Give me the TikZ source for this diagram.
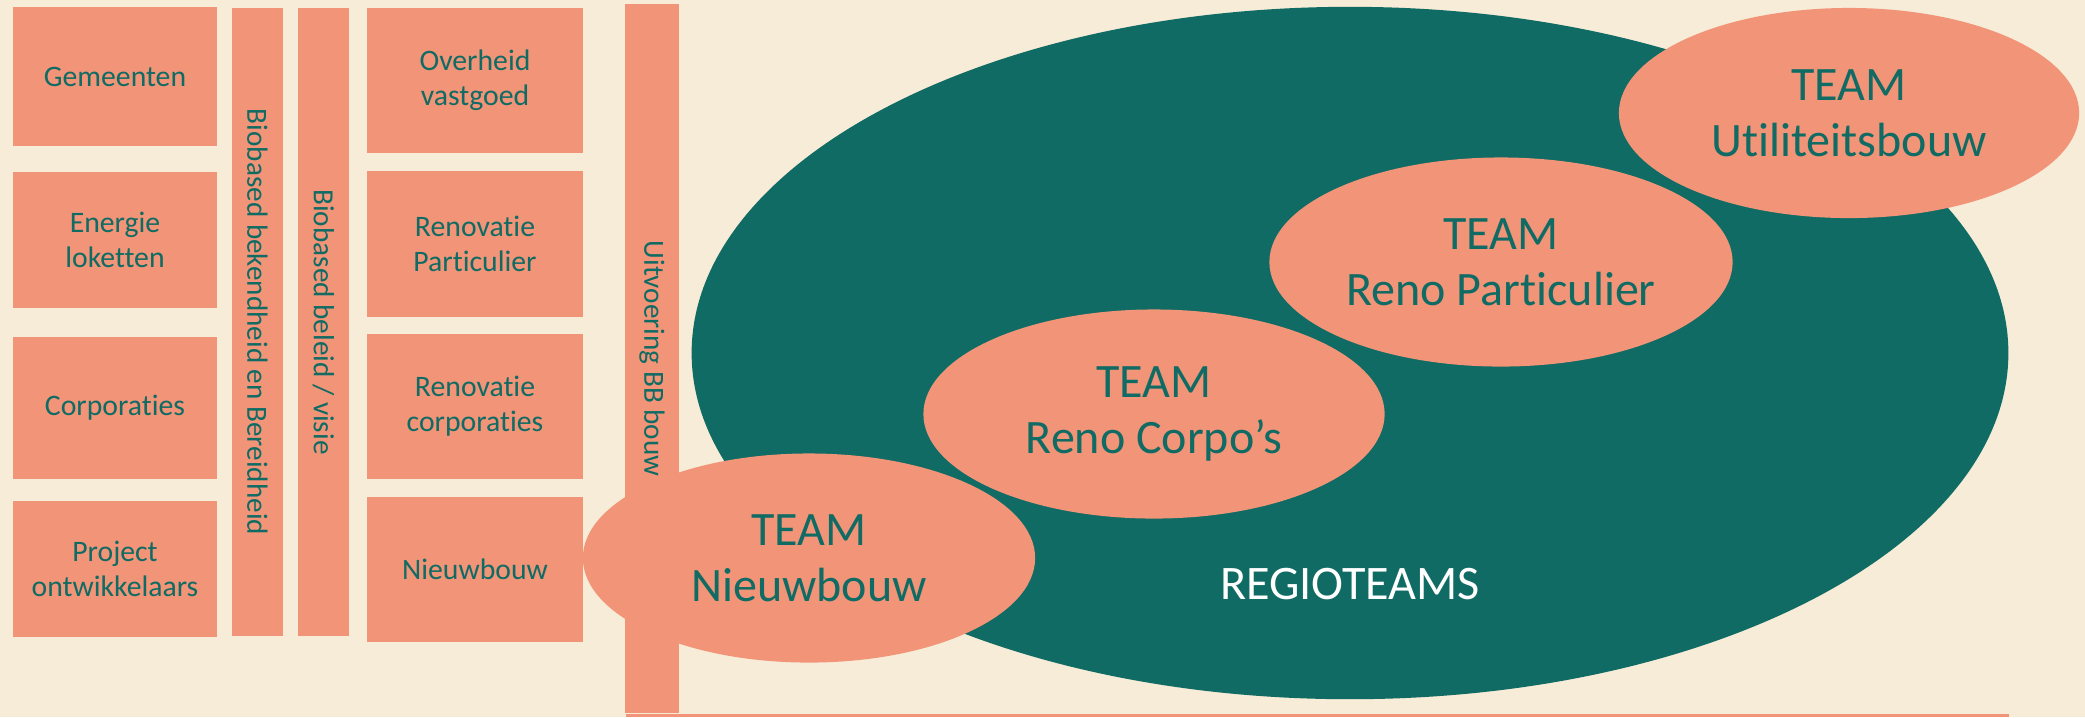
\documentclass[tikz,border=0pt]{standalone}
\usepackage{fontspec}
\setmainfont{Carlito}[Ligatures=NoCommon]
\usetikzlibrary{shapes.geometric, positioning}

\definecolor{cream}{HTML}{F7ECD7}
\definecolor{salmon}{HTML}{F19478}
\definecolor{regiogreen}{HTML}{0F6B63}

\tikzset{
  box/.style={rectangle, fill=salmon, text=regiogreen, align=center, inner sep=0pt,
    minimum width=2.04cm, minimum height=1.4cm, font=\fontsize{8.45}{10}\selectfont},
  bar/.style={rectangle, fill=salmon, text=regiogreen, inner sep=0pt, rotate=-90,
    font=\fontsize{8.3}{10}\selectfont},
  team/.style={ellipse, fill=salmon, text=regiogreen, align=center, inner sep=0pt,
    font=\fontsize{13.65}{15.9}\selectfont},
}

\begin{document}
\begin{tikzpicture}[x=0.01cm, y=-0.01cm]
% background
\fill[cream] (0,0) rectangle (2085,717);
\useasboundingbox (0,0) rectangle (2085,717);

% Stakeholders (left column)
\node[box, minimum height=1.39cm] (gem) at (115,76.5) {Gemeenten};
\node[box, minimum height=1.35cm, below=0.25cm of gem] (energie) {Energie\\loketten};
\node[box, minimum height=1.42cm, below=0.28cm of energie] (corp) {Corporaties};
\node[box, minimum height=1.35cm, below=0.21cm of corp] (project) {Project\\ontwikkelaars};

% Vertical themes
\node[bar, minimum width=6.28cm, minimum height=0.51cm] (bekend) at (257.5,322) {Biobased bekendheid en Bereidheid};
\node[bar, minimum width=6.28cm, minimum height=0.51cm] (beleid) at (323.5,322) {Biobased beleid / visie};

% Segments (right column)
\node[box, minimum width=2.16cm, minimum height=1.45cm] (overheid) at (475,80.5) {Overheid\\vastgoed};
\node[box, minimum width=2.16cm, minimum height=1.45cm, below=0.17cm of overheid] (renopart) {Renovatie\\Particulier};
\node[box, minimum width=2.16cm, minimum height=1.45cm, below=0.16cm of renopart] (renocorp) {Renovatie\\corporaties};
\node[box, minimum width=2.16cm, minimum height=1.44cm, below=0.17cm of renocorp] (nieuw) {Nieuwbouw};

% Regioteams
\node[ellipse, fill=regiogreen, minimum width=13.16cm, minimum height=6.92cm] (regio) at (1350,353) {};
\node[text=white, font=\fontsize{13.7}{16}\selectfont] (regiolabel) at (1350,584) {REGIOTEAMS};

\node[team, minimum width=4.6cm, minimum height=2.1cm] (tutil) at (1849,113) {TEAM\\Utiliteitsbouw};
\node[team, minimum width=4.63cm, minimum height=2.09cm] (tpart) at (1501,262) {TEAM\\Reno Particulier};
\node[team, minimum width=4.61cm, minimum height=2.09cm] (tcorp) at (1154,414) {TEAM\\Reno Corpo’s};
\node[team, minimum width=4.52cm, minimum height=2.09cm] (tnieuw) at (809,558) {TEAM\\Nieuwbouw};

% Execution bar
\node[bar, minimum width=7.09cm, minimum height=0.54cm] (uitv) at (652,358.5) {Uitvoering BB bouw};
\fill[salmon] (626,714) rectangle (2009,717);
\end{tikzpicture}
\end{document}
